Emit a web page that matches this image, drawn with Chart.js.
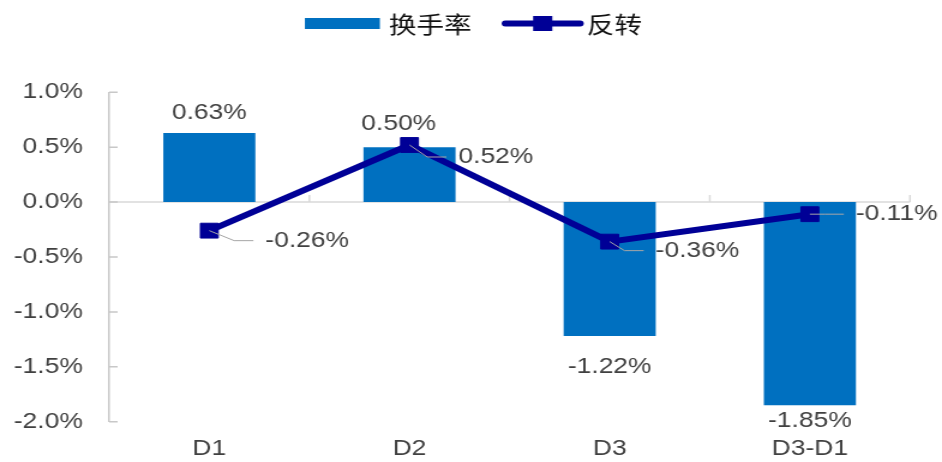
<!DOCTYPE html>
<html>
<head>
<meta charset="utf-8">
<script src="https://cdn.jsdelivr.net/npm/chart.js@4.4.1/dist/chart.umd.min.js"></script>
<style>
  html, body { margin: 0; padding: 0; background: #fff; overflow: hidden; }
  /* the chart is laid out narrow and widened horizontally */
  #wrap { width: 785px; height: 462px; transform: scaleX(1.2); transform-origin: 0 0; }
  canvas { display: block; }
</style>
</head>
<body>
<div id="wrap"><canvas id="chart" width="785" height="462"></canvas></div>
<script>
// Quintile buckets and the two factor series (values in %)
const categories = ['D1', 'D2', 'D3', 'D3-D1'];
const turnoverPct = [0.63, 0.50, -1.22, -1.85];
const reversalPct = [-0.26, 0.52, -0.36, -0.11];
const seriesNames = ['换手率', '反转'];
const yMin = -2.0, yMax = 1.0, yStep = 0.5;

// styles
const BAR_COLOR = '#0070C0';
const LINE_COLOR = '#000096';
const INK = '#404040';
const NUM_FONT = '22px "Liberation Sans", Arial, sans-serif';
const CJK_FONT = '23px "Noto Sans CJK SC", sans-serif';
// label nudges (px): [dx, distance from the bar end]
const barLabelNudge = [[0, 20], [-9, 23], [0, 31], [0, 15.5]];
// label nudges (px) relative to the line point: [dx to label's left edge, dy]
const lineLabelNudge = [[46.7, 10], [40.8, 12], [38.3, 9], [38.3, 0]];

const fmt = v => v.toFixed(2) + '%';

const decor = {
  id: 'decor',
  beforeDatasetsDraw(chart) {
    const { ctx, chartArea: a, scales: { x, y } } = chart;
    const y0 = y.getPixelForValue(0);
    ctx.save();
    // zero line acting as the category axis
    ctx.strokeStyle = '#D9D9D9';
    ctx.lineWidth = 1.5;
    ctx.beginPath();
    ctx.moveTo(a.left, y0);
    ctx.lineTo(a.right, y0);
    ctx.stroke();
    // category boundary ticks pointing up
    const half = (x.getPixelForTick(1) - x.getPixelForTick(0)) / 2;
    ctx.beginPath();
    categories.forEach((c, i) => {
      const px = x.getPixelForTick(i) + half;
      ctx.moveTo(px, y0);
      ctx.lineTo(px, y0 - 7);
    });
    ctx.stroke();
    // inward value ticks
    ctx.strokeStyle = '#C8C8C8';
    ctx.beginPath();
    y.ticks.forEach(t => {
      const py = y.getPixelForValue(t.value);
      ctx.moveTo(a.left, py);
      ctx.lineTo(a.left + 7, py);
    });
    ctx.stroke();
    ctx.restore();
  },
  afterDatasetsDraw(chart) {
    const { ctx } = chart;
    ctx.save();
    ctx.font = NUM_FONT;
    ctx.fillStyle = INK;
    ctx.textBaseline = 'middle';

    // bar value labels
    const barMeta = chart.getDatasetMeta(1);
    ctx.textAlign = 'center';
    barMeta.data.forEach((bar, i) => {
      const v = turnoverPct[i];
      const [dx, gap] = barLabelNudge[i];
      const ly = v >= 0 ? bar.y - gap : bar.y + gap;
      ctx.fillText(fmt(v), bar.x + dx, ly);
    });

    // line value labels with leader lines
    const lineMeta = chart.getDatasetMeta(0);
    ctx.textAlign = 'left';
    lineMeta.data.forEach((pt, i) => {
      const [dx, dy] = lineLabelNudge[i];
      const lx = pt.x + dx, ly = pt.y + dy;
      ctx.strokeStyle = '#A6A6A6';
      ctx.lineWidth = 1;
      ctx.beginPath();
      ctx.moveTo(pt.x, pt.y);
      ctx.lineTo(Math.max(pt.x, lx - 26), ly);
      ctx.lineTo(lx - 10, ly);
      ctx.stroke();
      ctx.fillText(fmt(reversalPct[i]), lx, ly);
    });
    ctx.restore();
  },
  afterDraw(chart) {
    // legend centred above the plot
    const { ctx } = chart;
    ctx.save();
    ctx.font = CJK_FONT;
    ctx.textBaseline = 'middle';
    ctx.textAlign = 'left';
    const w0 = ctx.measureText(seriesNames[0]).width;
    const w1 = ctx.measureText(seriesNames[1]).width;
    const swatchW = 62.5, lineW = 68.4;
    const total = swatchW + 7.5 + w0 + 25 + lineW + 2.5 + w1;
    let cx = chart.width / 2 - total / 2 + 2;
    const cy = 23.5;
    ctx.fillStyle = BAR_COLOR;
    ctx.fillRect(cx, cy - 5.5, swatchW, 11);
    cx += swatchW + 7.5;
    ctx.fillStyle = '#111';
    ctx.fillText(seriesNames[0], cx, cy + 0.5);
    cx += w0 + 25;
    ctx.strokeStyle = LINE_COLOR;
    ctx.lineWidth = 6;
    ctx.lineCap = 'round';
    ctx.beginPath();
    ctx.moveTo(cx + 3, cy);
    ctx.lineTo(cx + lineW - 3, cy);
    ctx.stroke();
    ctx.fillStyle = LINE_COLOR;
    ctx.fillRect(cx + lineW / 2 - 8, cy - 7.5, 16, 15);
    cx += lineW + 2.5;
    ctx.fillStyle = '#111';
    ctx.fillText(seriesNames[1], cx, cy + 0.5);
    ctx.restore();
  }
};

new Chart(document.getElementById('chart'), {
  data: {
    labels: categories,
    datasets: [
      {
        type: 'line',
        label: seriesNames[1],
        data: reversalPct,
        order: 0,
        borderColor: LINE_COLOR,
        backgroundColor: LINE_COLOR,
        borderWidth: 6,
        tension: 0,
        pointStyle: 'rect',
        pointRadius: 10.5,
        pointBorderWidth: 1,
        pointBorderColor: LINE_COLOR,
        pointBackgroundColor: LINE_COLOR
      },
      {
        type: 'bar',
        label: seriesNames[0],
        data: turnoverPct,
        order: 1,
        backgroundColor: BAR_COLOR,
        categoryPercentage: 1,
        barPercentage: 0.46
      }
    ]
  },
  options: {
    responsive: false,
    animation: false,
    devicePixelRatio: 1,
    layout: { padding: { top: 92.3, right: 26.7, bottom: 0, left: 0 } },
    plugins: {
      legend: { display: false },
      tooltip: { enabled: false }
    },
    scales: {
      x: {
        type: 'category',
        offset: true,
        grid: { display: false, drawTicks: false },
        border: { display: false },
        ticks: {
          color: INK,
          font: { family: '"Liberation Sans", Arial, sans-serif', size: 22 },
          padding: 14,
          maxRotation: 0
        },
        afterFit(scale) { scale.height = 40.3; }
      },
      y: {
        type: 'linear',
        min: yMin,
        max: yMax,
        grid: { display: false, drawTicks: false },
        border: { display: true, color: '#C8C8C8', width: 1.5 },
        ticks: {
          stepSize: yStep,
          color: INK,
          font: { family: '"Liberation Sans", Arial, sans-serif', size: 22 },
          padding: 22,
          callback: v => v.toFixed(1) + '%'
        },
        afterFit(scale) { scale.width = 91; }
      }
    }
  },
  plugins: [decor]
});
</script>
</body>
</html>
